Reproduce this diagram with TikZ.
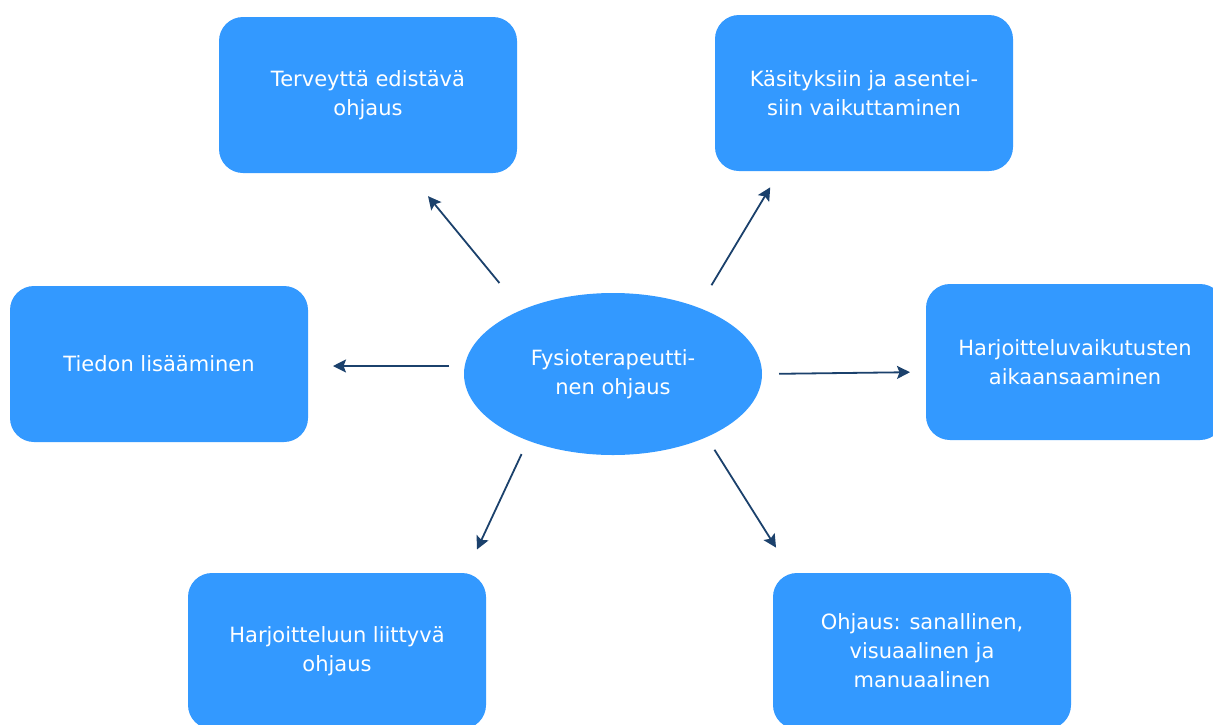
\documentclass[tikz,border=0pt]{standalone}
\usepackage{fontspec}
\setmainfont{DejaVu Sans}
\usetikzlibrary{shapes.geometric, arrows.meta}
\definecolor{boxblue}{HTML}{3399FF}
\definecolor{arrownavy}{HTML}{1B416C}

\begin{document}
\begin{tikzpicture}[x = 1pt, y = -1pt,
		box/.style = {fill = boxblue, rounded corners = 24pt, minimum width = 298pt, minimum height = 156pt, inner sep = 0pt, outer sep = 0pt, text = white, align = center, font = \fontsize{21}{29}\selectfont},
		hub/.style = {ellipse, fill = boxblue, minimum width = 298pt, minimum height = 162pt, inner sep = 0pt, outer sep = 0pt, text = white, align = center, font = \fontsize{21}{29}\selectfont},
		arr/.style = {draw = arrownavy, line width = 1.8pt, -{Stealth[length = 13pt, width = 13pt, inset = 2.5pt]}}]
	\useasboundingbox (0,0) rectangle (1213,724);
	\fill[white] (0,0) rectangle (1213,724);
	\clip (0,0) rectangle (1213,724);

	\begin{scope}
		\node[hub] (ohjaus) at (613,374) {Fysioterapeutti-\\nen ohjaus};

		\node[box] (terveys) at (368,95) {Terveyttä edistävä\\ohjaus};
		\node[box] (asenteet) at (864,93) {Käsityksiin ja asentei-\\siin vaikuttaminen};
		\node[box] (tieto) at (159,364) {Tiedon lisääminen};
		\node[box] (vaikutus) at (1075,362) {Harjoitteluvaikutusten\\aikaansaaminen};
		\node[box] (harjoittelu) at (337,651) {Harjoitteluun liittyvä\\ohjaus};
		\node[box] (tapa) at (922,651) {Ohjaus: sanallinen,\\visuaalinen ja\\manuaalinen};
	\end{scope}

	\begin{scope}
		\draw[arr, shorten <= 35pt, shorten >= 30pt] (ohjaus.145) -- ([xshift = 41pt]terveys.south);
		\draw[arr, shorten <= 26pt, shorten >= 19pt] (ohjaus.38) -- ([xshift = -84pt]asenteet.south);
		\draw[arr, shorten <= 15pt, shorten >= 25pt] ([yshift = 8pt]ohjaus.west) -- ([yshift = 8pt]ohjaus.west -| tieto.east);
		\draw[arr, shorten <= 17pt, shorten >= 16pt] (ohjaus.east) -- ([yshift = -10pt]vaikutus.west);
		\draw[arr, shorten <= 15pt, shorten >= 26pt] (ohjaus.218) -- ([xshift = 129pt]harjoittelu.north);
		\draw[arr, shorten <= 15pt, shorten >= 30pt] (ohjaus.326) -- ([xshift = -130pt]tapa.north);
	\end{scope}
\end{tikzpicture}
\end{document}
